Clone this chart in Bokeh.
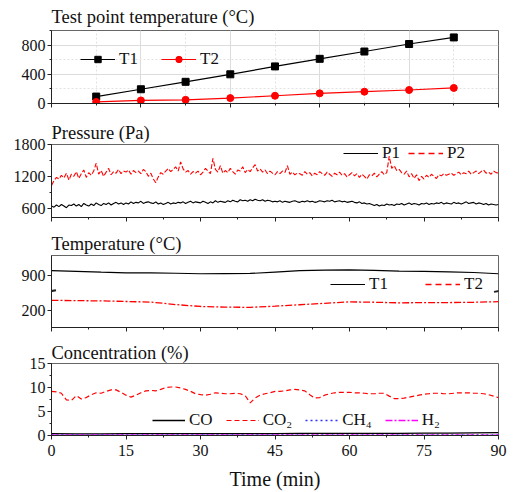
import numpy as np
from bokeh.plotting import figure
from bokeh.layouts import column
from bokeh.models import Range1d, SingleIntervalTicker, FixedTicker, Arrow
from bokeh.embed import file_html
from bokeh.resources import INLINE

SERIF = "'Liberation Serif'"

# ---------------- Panel 1: test point temperature ----------------
point_idx = [1, 2, 3, 4, 5, 6, 7, 8, 9]
tp_T1 = [95, 195, 297, 400, 508, 612, 712, 815, 905]
tp_T2 = [22, 42, 50, 74, 106, 139, 162, 185, 213]

# ---------------- Panel 2: pressure (0.5 min sampling) ----------------
time_p = np.arange(0, 90.5, 0.5)
P1 = [640, 620, 660, 630, 670, 640, 610, 660, 650, 680,
      640, 670, 630, 690, 660, 640, 680, 650, 700, 670,
      650, 690, 670, 700, 660, 690, 710, 680, 700, 670,
      700, 680, 720, 690, 710, 700, 730, 690, 710, 720,
      700, 690, 720, 680, 700, 670, 690, 710, 680, 700,
      690, 710, 700, 720, 690, 710, 730, 700, 720, 710,
      700, 730, 710, 690, 720, 700, 740, 710, 730, 720,
      710, 740, 720, 750, 730, 720, 760, 740, 750, 730,
      760, 740, 770, 750, 740, 760, 730, 750, 740, 720,
      730, 720, 740, 710, 730, 720, 710, 730, 740, 720,
      710, 730, 720, 740, 720, 730, 710, 720, 740, 730,
      720, 740, 730, 750, 720, 730, 740, 720, 730, 710,
      720, 730, 710, 700, 720, 690, 700, 680, 690, 670,
      650, 670, 640, 660, 650, 680, 660, 670, 650, 680,
      670, 690, 660, 680, 700, 670, 690, 680, 660, 690,
      680, 700, 670, 690, 680, 700, 690, 710, 680, 700,
      690, 680, 710, 690, 700, 680, 700, 720, 690, 700,
      710, 680, 700, 690, 670, 690, 660, 680, 670, 660,
      670]
P2 = [1030, 1120, 1180, 1150, 1220, 1170, 1260, 1130, 1240, 1200,
      1290, 1160, 1250, 1320, 1180, 1270, 1220, 1300, 1450, 1240,
      1310, 1200, 1280, 1350, 1230, 1290, 1260, 1330, 1250, 1300,
      1280, 1320, 1240, 1310, 1270, 1300, 1250, 1330, 1290, 1200,
      1260, 1150, 1080, 1190, 1270, 1240, 1300, 1350, 1290, 1330,
      1380, 1300, 1470, 1340, 1280, 1310, 1240, 1290, 1260, 1300,
      1230, 1280, 1350, 1300, 1250, 1540, 1330, 1280, 1400, 1260,
      1310, 1270, 1350, 1290, 1240, 1320, 1300, 1380, 1270, 1330,
      1290, 1360, 1420, 1300, 1340, 1280, 1320, 1250, 1300, 1260,
      1230, 1290, 1250, 1300, 1270, 1400, 1240, 1280, 1230, 1260,
      1250, 1220, 1290, 1240, 1270, 1210, 1260, 1230, 1290, 1250,
      1220, 1280, 1240, 1200, 1260, 1230, 1280, 1220, 1250, 1190,
      1230, 1270, 1210, 1250, 1180, 1240, 1200, 1150, 1230, 1210,
      1260, 1190, 1240, 1290, 1230, 1270, 1580, 1350, 1400, 1310,
      1330, 1270, 1240, 1300, 1190, 1250, 1160, 1230, 1120, 1200,
      1150, 1220, 1180, 1240, 1200, 1160, 1230, 1210, 1250, 1220,
      1240, 1260, 1220, 1250, 1280, 1230, 1270, 1250, 1300, 1240,
      1270, 1300, 1250, 1290, 1320, 1260, 1280, 1240, 1300, 1270,
      1260]

# ---------------- Panel 3: temperature (broken axis) ----------------
time_t = [0, 5, 10, 15, 20, 25, 30, 35, 40, 45, 50, 55, 60, 65, 70, 75, 80, 85, 90]
T1 = [956, 948, 940, 933, 932, 928, 923, 924, 926, 940, 955, 960, 963, 958, 950, 947, 943, 936, 923]
T2 = [306, 303, 300, 294, 288, 262, 242, 235, 233, 245, 260, 275, 290, 286, 280, 282, 283, 286, 292]
T2_SHIFT = 340      # lower segment is shifted up by this amount (axis break)
BREAK_LEVEL = 743   # position of the break on the shifted axis

# ---------------- Panel 4: gas concentration ----------------
time_c = list(range(0, 91))
CO2 = [9.2, 9.1, 8.8, 7.4, 7.3, 8.3, 7.6, 7.9, 8.5, 8.9,
       8.8, 9.2, 9.5, 9.5, 9.0, 8.4, 8.0, 8.4, 8.9, 9.3,
       9.4, 9.3, 9.6, 10.0, 10.1, 10.1, 9.9, 9.6, 9.2, 8.7,
       8.5, 8.4, 8.6, 8.9, 8.8, 8.7, 8.7, 8.8, 8.7, 8.3,
       6.8, 7.8, 8.4, 8.7, 8.9, 9.2, 9.2, 9.3, 9.5, 9.6,
       9.5, 9.3, 8.5, 7.8, 7.9, 8.4, 8.7, 8.9, 9.0, 9.0,
       9.0, 8.9, 8.9, 8.8, 8.7, 8.7, 8.8, 8.8, 8.2, 7.7,
       7.7, 7.8, 8.0, 8.2, 8.4, 8.6, 8.7, 8.8, 8.8, 8.7,
       8.7, 8.8, 8.9, 8.9, 8.9, 8.8, 8.8, 8.7, 8.5, 8.2,
       7.9]
time_c5 = [0, 5, 10, 15, 20, 25, 30, 35, 40, 45, 50, 55, 60, 65, 70, 75, 80, 85, 90]
CO = [0.4, 0.35, 0.35, 0.4, 0.4, 0.4, 0.4, 0.4, 0.4, 0.4, 0.45, 0.45, 0.45, 0.45, 0.45, 0.5, 0.5, 0.55, 0.6]
CH4 = [0.15] * 19
H2 = [0.05] * 19

W = 516
LEFT = 51
RIGHT = 18


def make_fig(height, top, bottom, x_range, y_range, title, standoff):
    p = figure(width=W, height=height, x_range=x_range, y_range=y_range,
               output_backend="svg", toolbar_location=None,
               min_border_left=LEFT, min_border_right=RIGHT,
               min_border_top=top, min_border_bottom=bottom, title=title)
    p.title.text_font = SERIF
    p.title.text_font_size = "18.5px"
    p.title.text_font_style = "normal"
    p.title.text_color = "#111111"
    p.title.standoff = standoff
    p.title.offset = 0
    p.outline_line_color = "#666666"
    p.outline_line_width = 1
    p.grid.visible = False
    for ax in p.axis:
        ax.axis_line_color = "#222222"
        ax.major_tick_line_color = "#222222"
        ax.minor_tick_line_color = "#222222"
        ax.major_tick_out = 4
        ax.major_tick_in = 0
        ax.minor_tick_out = 2
        ax.minor_tick_in = 0
        ax.major_label_text_font = SERIF
        ax.major_label_text_font_size = "16px"
        ax.major_label_text_color = "#111111"
        ax.major_label_standoff = 2
    return p


def hide_x_labels(p, ticks):
    p.xaxis.major_label_overrides = {t: "" for t in ticks}
    p.xaxis.major_label_standoff = 0


def style_legend(p, loc, spacing, glyph_w=35):
    lg = p.legend[0]
    lg.location = loc
    lg.orientation = "horizontal"
    lg.background_fill_alpha = 0
    lg.border_line_alpha = 0
    lg.label_text_font = SERIF
    lg.label_text_font_size = "17px"
    lg.label_text_color = "#111111"
    lg.glyph_width = glyph_w
    lg.glyph_height = 16
    lg.label_height = 16
    lg.label_standoff = 4
    lg.spacing = spacing
    lg.padding = 0
    lg.margin = 0


time_ticks = [0, 15, 30, 45, 60, 75, 90]

# ---------- Panel 1 ----------
p1 = make_fig(118, 30, 15, Range1d(0, 10), Range1d(0, 1000),
              "Test point temperature (°C)", 8)
p1.xaxis.ticker = SingleIntervalTicker(interval=2, num_minor_ticks=2)
p1.yaxis.ticker = SingleIntervalTicker(interval=400, num_minor_ticks=2)
hide_x_labels(p1, [0, 2, 4, 6, 8, 10])
p1.grid.visible = True
p1.grid.grid_line_color = "#dcdcdc"
p1.grid.minor_grid_line_color = "#e2e2e2"
p1.grid.minor_grid_line_dash = "2 2"
p1.line(point_idx, tp_T1, color="black", line_width=1.2, legend_label="T1")
p1.scatter(point_idx, tp_T1, marker="square", size=7, color="black", legend_label="T1")
p1.line(point_idx, tp_T2, color="red", line_width=1.2, legend_label="T2")
p1.scatter(point_idx, tp_T2, marker="circle", size=7, color="red", legend_label="T2")
style_legend(p1, (29, 34), 22)

# ---------- Panel 2 ----------
p2 = make_fig(112, 23, 13, Range1d(0, 90), Range1d(425, 1800), "Pressure (Pa)", 4)
p2.xaxis.ticker = SingleIntervalTicker(interval=15, num_minor_ticks=2)
p2.yaxis.ticker = SingleIntervalTicker(interval=600, num_minor_ticks=2)
hide_x_labels(p2, time_ticks)
p2.line(time_p, P1, color="black", line_width=1.1, legend_label="P1")
p2.line(time_p, P2, color="red", line_width=1.1, line_dash="5 2")
# legend sample for P2 drawn with the wider dash of the reference legend
p2.line(x=[-20, -10], y=[1000, 1000], color="red", line_width=1.3, line_dash="6 4", legend_label="P2")
style_legend(p2, (292, 54), 6)

# ---------- Panel 3 ----------
p3 = make_fig(106, 22, 9, Range1d(0, 90), Range1d(363, 1113), "Temperature (°C)", 3)
p3.xaxis.ticker = SingleIntervalTicker(interval=15, num_minor_ticks=2)
p3.yaxis.ticker = FixedTicker(ticks=[200 + T2_SHIFT, 900], minor_ticks=[])
p3.yaxis.major_label_overrides = {200 + T2_SHIFT: "200"}
hide_x_labels(p3, time_ticks)
p3.line(time_t, T1, color="black", line_width=1.2, legend_label="T1")
t2_shifted = [v + T2_SHIFT for v in T2]
p3.line(time_t, t2_shifted, color="red", line_width=1.3, line_dash="7 2 2 2")
p3.line(x=[-20, -10], y=[800, 800], color="red", line_width=1.3, line_dash="6 4", legend_label="T2")
style_legend(p3, (279, 33), 36)
for xc in (0, 90):
    p3.add_layout(Arrow(end=None, x_start=xc - 0.9, y_start=BREAK_LEVEL - 9,
                        x_end=xc + 0.9, y_end=BREAK_LEVEL + 9,
                        line_width=2, line_color="#222222"))

# ---------- Panel 4 ----------
p4 = make_fig(156, 27, 55, Range1d(0, 90), Range1d(0, 15), "Concentration (%)", 2)
p4.xaxis.ticker = SingleIntervalTicker(interval=15, num_minor_ticks=2)
p4.yaxis.ticker = SingleIntervalTicker(interval=5, num_minor_ticks=2)
p4.xaxis.major_label_standoff = 5
p4.xaxis.axis_label = "Time (min)"
p4.xaxis.axis_label_text_font = SERIF
p4.xaxis.axis_label_text_font_size = "20px"
p4.xaxis.axis_label_text_font_style = "normal"
p4.xaxis.axis_label_text_color = "#111111"
p4.xaxis.axis_label_standoff = 9
p4.line(time_c5, CO, color="black", line_width=1.3, legend_label="CO")
p4.line(time_c, CO2, color="red", line_width=1.2, line_dash="5 3", legend_label="CO₂")
p4.line(time_c5, CH4, color="#3333ff", line_width=1.3, line_dash="2 3", legend_label="CH₄")
p4.line(time_c5, H2, color="#ff00ff", line_width=1.3, line_dash="7 2 2 2", legend_label="H₂")
style_legend(p4, (101, 5), 13, glyph_w=33)

layout = column(p1, p2, p3, p4, spacing=0)
open("out.html", "w").write(file_html(layout, INLINE))
